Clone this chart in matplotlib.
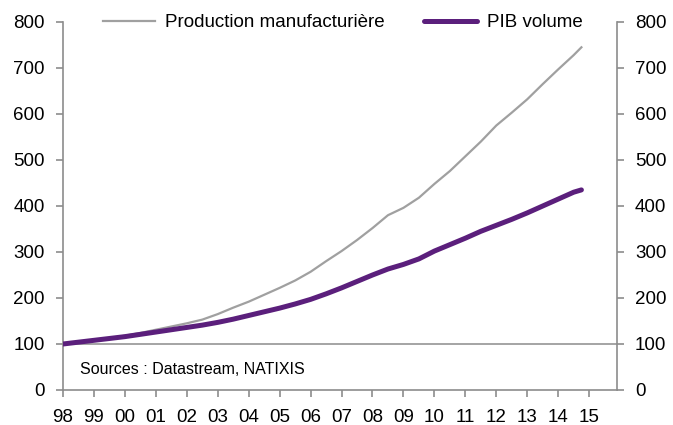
import matplotlib
matplotlib.use("Agg")
import matplotlib.pyplot as plt

plt.rcParams['font.family'] = ['Liberation Sans', 'DejaVu Sans']

# semestrial points (base 100 = 1998)
dates = [1998.0, 1998.5, 1999.0, 1999.5, 2000.0, 2000.5, 2001.0, 2001.5,
         2002.0, 2002.5, 2003.0, 2003.5, 2004.0, 2004.5, 2005.0, 2005.5,
         2006.0, 2006.5, 2007.0, 2007.5, 2008.0, 2008.5, 2009.0, 2009.5,
         2010.0, 2010.5, 2011.0, 2011.5, 2012.0, 2012.5, 2013.0, 2013.5,
         2014.0, 2014.5, 2014.75]
prod_manuf = [100, 104, 108, 113, 118, 124, 131, 138,
              145, 153, 165, 179, 192, 207, 222, 238,
              257, 280, 302, 326, 352, 380, 396, 418,
              448, 476, 508, 540, 575, 603, 632, 665,
              697, 728, 745]
pib_volume = [100, 104, 108, 112, 116, 121, 126, 131,
              136, 141, 147, 154, 162, 170, 178, 187,
              197, 209, 222, 236, 250, 263, 273, 285,
              302, 316, 330, 345, 358, 371, 385, 400,
              415, 430, 435]
year_ticks = list(range(1998, 2016))
year_labels = ['98', '99', '00', '01', '02', '03', '04', '05', '06',
               '07', '08', '09', '10', '11', '12', '13', '14', '15']
y_ticks = [0, 100, 200, 300, 400, 500, 600, 700, 800]

grey = '#a0a0a0'
purple = '#5b1f7c'
axis_col = '#8c8c8c'

fig = plt.figure(figsize=(6.73, 4.25), dpi=100)
ax = fig.add_axes([63/673, 1-390/425, 554/673, 368/425])

ax.axhline(100, color=axis_col, lw=1.1, zorder=1)
ax.plot(dates, prod_manuf, color=grey, lw=1.6, label='Production manufacturière', zorder=2)
ax.plot(dates, pib_volume, color=purple, lw=3.6, label='PIB volume',
        solid_capstyle='round', zorder=3)

ax.set_xlim(1998, 2015.9)
ax.set_ylim(0, 800)
ax.set_xticks(year_ticks)
ax.set_xticklabels(year_labels)
ax.set_yticks(y_ticks)

ax2 = ax.twinx()
ax2.set_ylim(0, 800)
ax2.set_yticks(y_ticks)

for a in (ax, ax2):
    for s in a.spines.values():
        s.set_color(axis_col)
        s.set_linewidth(1.2)
    a.spines['top'].set_visible(False)
    a.tick_params(axis='both', direction='out', length=5, width=1.2,
                  color=axis_col, labelsize=13.5, pad=8)
ax.spines['right'].set_visible(False)
ax2.spines['left'].set_visible(False)
ax2.spines['bottom'].set_visible(False)
ax.tick_params(axis='x', pad=9)

ax.text(0.031, 0.057, 'Sources : Datastream, NATIXIS', transform=ax.transAxes,
        fontsize=11.5, va='center', ha='left')

ax.legend(loc='center', bbox_to_anchor=(0.505, 0.998), ncol=2, frameon=False,
          fontsize=13.5, handlelength=2.8, handletextpad=0.55, columnspacing=2.1,
          borderaxespad=0)

fig.savefig('out.png', dpi=100)
